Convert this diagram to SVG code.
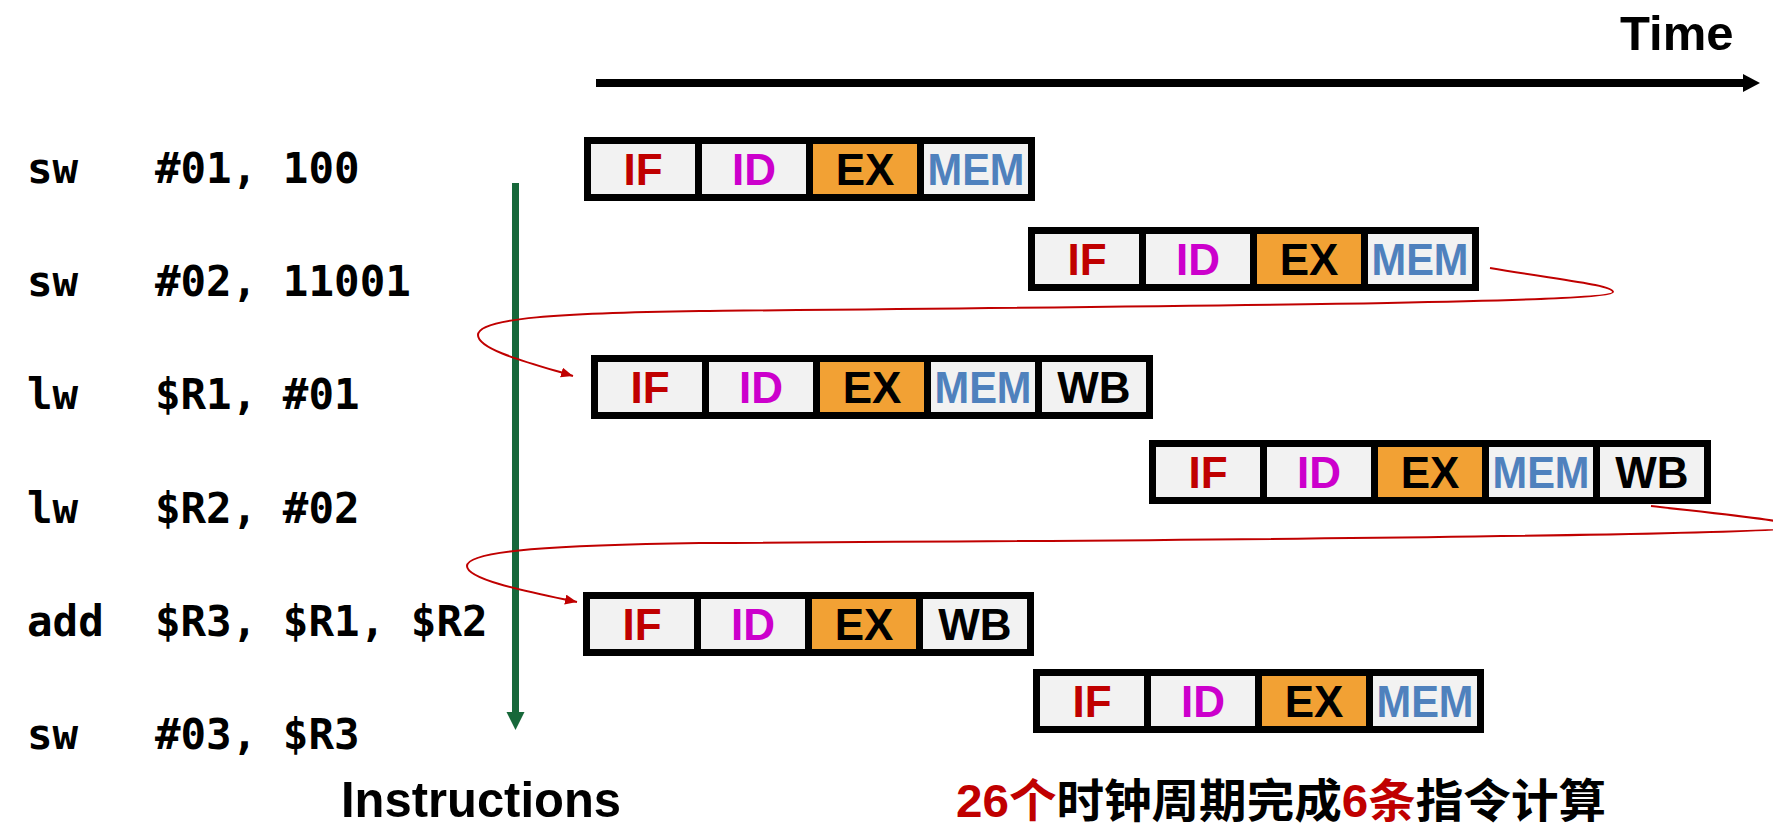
<svg xmlns="http://www.w3.org/2000/svg" width="1773" height="839" viewBox="0 0 1773 839">
  <style>
    .frame { fill: #000000; }
    .cell { fill: #F2F2F2; }
    .cell.ex { fill: #F2A134; }
    .st { font-family: "Liberation Sans", Arial, sans-serif; font-weight: bold; font-size: 44px; text-anchor: middle; }
    .if { fill: #C00000; }
    .id { fill: #CC00CC; }
    .exT { fill: #000000; }
    .mem { fill: #4F81BD; }
    .wb { fill: #000000; }
    .code { font-family: "DejaVu Sans Mono", "Liberation Mono", monospace; font-weight: bold; font-size: 42.5px; fill: #000000; white-space: pre; }
    .lbl { font-family: "Liberation Sans", Arial, sans-serif; font-weight: bold; fill: #000000; }
    .cjk { font-family: "Liberation Sans", "Noto Sans CJK SC", sans-serif; font-weight: bold; font-size: 46px; fill: #000000; }
    .red { fill: #C00000; }
    .dep { fill: none; stroke: #C00000; stroke-width: 2; }
  </style>
  <defs>
    <marker id="redArrow" markerUnits="userSpaceOnUse" markerWidth="14" markerHeight="12" refX="12" refY="5" orient="auto">
      <path d="M0,0 L12,5 L0,10 z" fill="#C00000"/>
    </marker>
  </defs>

  <rect width="1773" height="839" fill="#FFFFFF"/>

  <!-- Instruction listing -->
  <g id="instructions">
    <text class="code" x="27" y="183" xml:space="preserve">sw   #01, 100</text>
    <text class="code" x="27" y="296" xml:space="preserve">sw   #02, 11001</text>
    <text class="code" x="27" y="409" xml:space="preserve">lw   $R1, #01</text>
    <text class="code" x="27" y="523" xml:space="preserve">lw   $R2, #02</text>
    <text class="code" x="27" y="636" xml:space="preserve">add  $R3, $R1, $R2</text>
    <text class="code" x="27" y="749" xml:space="preserve">sw   #03, $R3</text>
  </g>

  <g id="label-instructions">
    <text class="lbl" x="341" y="817" font-size="50" textLength="280" lengthAdjust="spacingAndGlyphs">Instructions</text>
  </g>

  <g id="label-time">
    <text class="lbl" x="1620" y="50" font-size="49">Time</text>
  </g>

  <g id="label-summary">
    <text class="cjk" x="956" y="817" textLength="650" lengthAdjust="spacingAndGlyphs"><tspan class="red">26个</tspan>时钟周期完成<tspan class="red">6条</tspan>指令计算</text>
  </g>

  <!-- Pipeline rows -->
  <g id="row1" transform="translate(584,137)">
    <rect class="frame" x="0" y="0" width="451" height="64"/>
    <rect class="cell" x="7" y="7" width="104" height="50"/>
    <rect class="cell" x="118" y="7" width="104" height="50"/>
    <rect class="cell ex" x="229" y="7" width="104" height="50"/>
    <rect class="cell" x="340" y="7" width="104" height="50"/>
    <text class="st if" x="59" y="48">IF</text>
    <text class="st id" x="170" y="48">ID</text>
    <text class="st exT" x="281" y="48">EX</text>
    <text class="st mem" x="392" y="48" textLength="97" lengthAdjust="spacingAndGlyphs">MEM</text>
  </g>

  <g id="row2" transform="translate(1028,227)">
    <rect class="frame" x="0" y="0" width="451" height="64"/>
    <rect class="cell" x="7" y="7" width="104" height="50"/>
    <rect class="cell" x="118" y="7" width="104" height="50"/>
    <rect class="cell ex" x="229" y="7" width="104" height="50"/>
    <rect class="cell" x="340" y="7" width="104" height="50"/>
    <text class="st if" x="59" y="48">IF</text>
    <text class="st id" x="170" y="48">ID</text>
    <text class="st exT" x="281" y="48">EX</text>
    <text class="st mem" x="392" y="48" textLength="97" lengthAdjust="spacingAndGlyphs">MEM</text>
  </g>

  <g id="row3" transform="translate(591,355)">
    <rect class="frame" x="0" y="0" width="562" height="64"/>
    <rect class="cell" x="7" y="7" width="104" height="50"/>
    <rect class="cell" x="118" y="7" width="104" height="50"/>
    <rect class="cell ex" x="229" y="7" width="104" height="50"/>
    <rect class="cell" x="340" y="7" width="104" height="50"/>
    <rect class="cell" x="451" y="7" width="104" height="50"/>
    <text class="st if" x="59" y="48">IF</text>
    <text class="st id" x="170" y="48">ID</text>
    <text class="st exT" x="281" y="48">EX</text>
    <text class="st mem" x="392" y="48" textLength="97" lengthAdjust="spacingAndGlyphs">MEM</text>
    <text class="st wb" x="503" y="48">WB</text>
  </g>

  <g id="row4" transform="translate(1149,440)">
    <rect class="frame" x="0" y="0" width="562" height="64"/>
    <rect class="cell" x="7" y="7" width="104" height="50"/>
    <rect class="cell" x="118" y="7" width="104" height="50"/>
    <rect class="cell ex" x="229" y="7" width="104" height="50"/>
    <rect class="cell" x="340" y="7" width="104" height="50"/>
    <rect class="cell" x="451" y="7" width="104" height="50"/>
    <text class="st if" x="59" y="48">IF</text>
    <text class="st id" x="170" y="48">ID</text>
    <text class="st exT" x="281" y="48">EX</text>
    <text class="st mem" x="392" y="48" textLength="97" lengthAdjust="spacingAndGlyphs">MEM</text>
    <text class="st wb" x="503" y="48">WB</text>
  </g>

  <g id="row5" transform="translate(583,592)">
    <rect class="frame" x="0" y="0" width="451" height="64"/>
    <rect class="cell" x="7" y="7" width="104" height="50"/>
    <rect class="cell" x="118" y="7" width="104" height="50"/>
    <rect class="cell ex" x="229" y="7" width="104" height="50"/>
    <rect class="cell" x="340" y="7" width="104" height="50"/>
    <text class="st if" x="59" y="48">IF</text>
    <text class="st id" x="170" y="48">ID</text>
    <text class="st exT" x="281" y="48">EX</text>
    <text class="st wb" x="392" y="48">WB</text>
  </g>

  <g id="row6" transform="translate(1033,669)">
    <rect class="frame" x="0" y="0" width="451" height="64"/>
    <rect class="cell" x="7" y="7" width="104" height="50"/>
    <rect class="cell" x="118" y="7" width="104" height="50"/>
    <rect class="cell ex" x="229" y="7" width="104" height="50"/>
    <rect class="cell" x="340" y="7" width="104" height="50"/>
    <text class="st if" x="59" y="48">IF</text>
    <text class="st id" x="170" y="48">ID</text>
    <text class="st exT" x="281" y="48">EX</text>
    <text class="st mem" x="392" y="48" textLength="97" lengthAdjust="spacingAndGlyphs">MEM</text>
  </g>

  <!-- Connectors -->
  <g id="connectors">
    <!-- time axis -->
    <line x1="596" y1="83" x2="1746" y2="83" stroke="#000000" stroke-width="8"/>
    <path d="M1743,74 L1760,83 L1743,92 z" fill="#000000"/>
    <!-- instruction order axis -->
    <line x1="515.5" y1="183" x2="515.5" y2="714" stroke="#17683A" stroke-width="7"/>
    <path d="M506.5,712 L524.5,712 L515.5,730 z" fill="#17683A"/>
    <!-- dependency curves -->
    <path class="dep" marker-end="url(#redArrow)" d="M1490,268 C1560,280 1613,285 1613,292 C1613,302 1300,305 700,311 C560,313 478,318 478,335 C478,350 530,363 573,376"/>
    <path class="dep" marker-end="url(#redArrow)" d="M1651,506 C1720,514 1800,522 1800,527 C1800,534 1300,540 700,543 C560,545 467,550 467,566 C467,580 530,592 577,602"/>
  </g>
</svg>
